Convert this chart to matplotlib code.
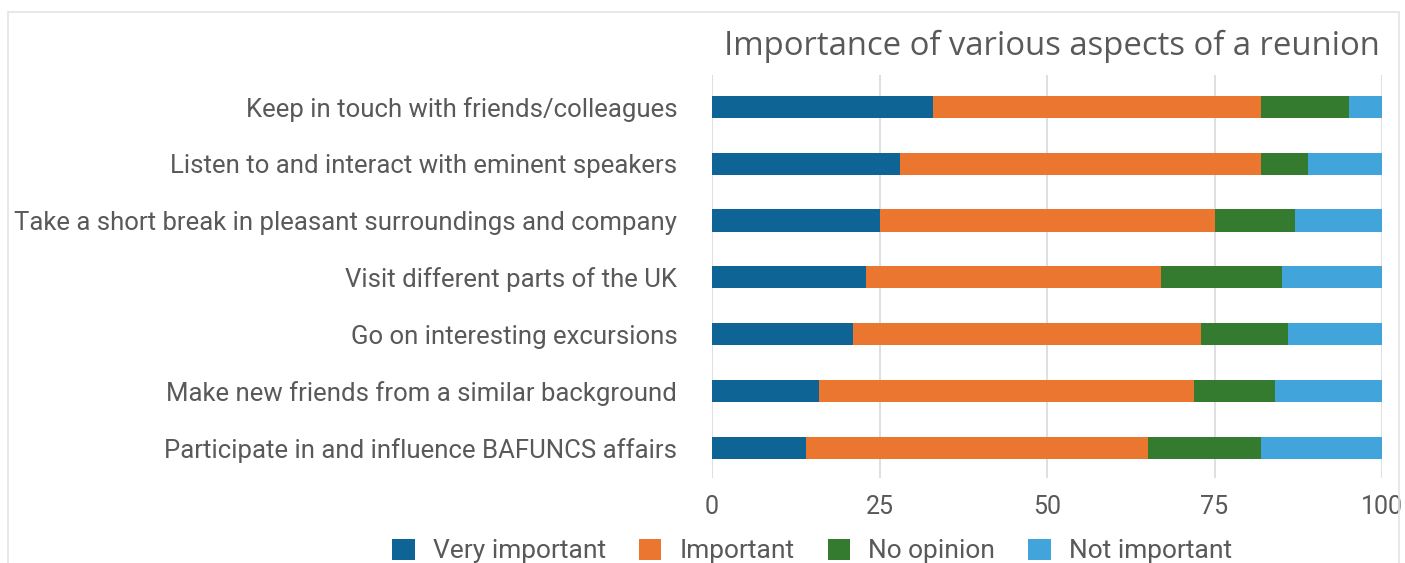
import matplotlib
matplotlib.use("Agg")
import matplotlib.pyplot as plt
from matplotlib.patches import Rectangle
import numpy as np

categories = [
    "Keep in touch with friends/colleagues",
    "Listen to and interact with eminent speakers",
    "Take a short break in pleasant surroundings and company",
    "Visit different parts of the UK",
    "Go on interesting excursions",
    "Make new friends from a similar background",
    "Participate in and influence BAFUNCS affairs",
]
very_important = [33, 28, 25, 23, 21, 16, 14]
important = [49, 54, 50, 44, 52, 56, 51]
no_opinion = [13, 7, 12, 18, 13, 12, 17]
not_important = [5, 11, 13, 15, 14, 16, 18]
series_names = ["Very important", "Important", "No opinion", "Not important"]
colors = ["#0E6595", "#EA7630", "#347A2F", "#41A4DA"]
xticks = [0, 25, 50, 75, 100]

W, H = 1405, 563
fig = plt.figure(figsize=(W / 100, H / 100), dpi=100)
fig.patch.set_facecolor("white")

# light border frame
fig.add_artist(Rectangle((8 / W, -0.05), (1399 - 8) / W, 1.05 - 12 / H,
                         transform=fig.transFigure, fill=False,
                         edgecolor="#e4e4e4", linewidth=1.2))

left, right, top, bottom = 712, 1382, 75, 478
ax = fig.add_axes([left / W, 1 - bottom / H, (right - left) / W, (bottom - top) / H])

n = len(categories)
y = np.arange(n)[::-1]
data = [very_important, important, no_opinion, not_important]
base = np.zeros(n)
for vals, name, c in zip(data, series_names, colors):
    vals = np.array(vals, dtype=float)
    ax.barh(y, vals, left=base, height=0.39, color=c, label=name, zorder=3)
    base += vals

ax.set_xlim(0, 100)
ax.set_ylim(-0.53, n - 1 + 0.56)
ax.set_xticks(xticks)
ax.set_xticklabels([str(t) for t in xticks])
ax.set_yticks(y)
ax.set_yticklabels(categories)
ax.grid(axis="x", color="#d9d9de", linewidth=1.2, zorder=0)
for s in ax.spines.values():
    s.set_visible(False)
ax.tick_params(axis="both", length=0, labelcolor="#595959")
ax.tick_params(axis="y", pad=25, labelsize=18.5)
ax.tick_params(axis="x", pad=12, labelsize=18)
for lbl in ax.get_yticklabels() + ax.get_xticklabels():
    lbl.set_fontfamily("Roboto")

fig.text(1380 / W, 1 - 46 / H, "Importance of various aspects of a reunion",
         ha="right", va="center", fontsize=23.7, color="#595959",
         fontfamily="Open Sans")

leg = fig.legend(loc="center", bbox_to_anchor=(812 / W, 1 - 551 / H),
                 ncol=4, frameon=False, handlelength=0.85,
                 handleheight=0.85, columnspacing=1.26, handletextpad=0.68,
                 prop={"family": "Roboto", "size": 19})
for t in leg.get_texts():
    t.set_color("#595959")

fig.savefig("out.png", dpi=100, facecolor="white")
